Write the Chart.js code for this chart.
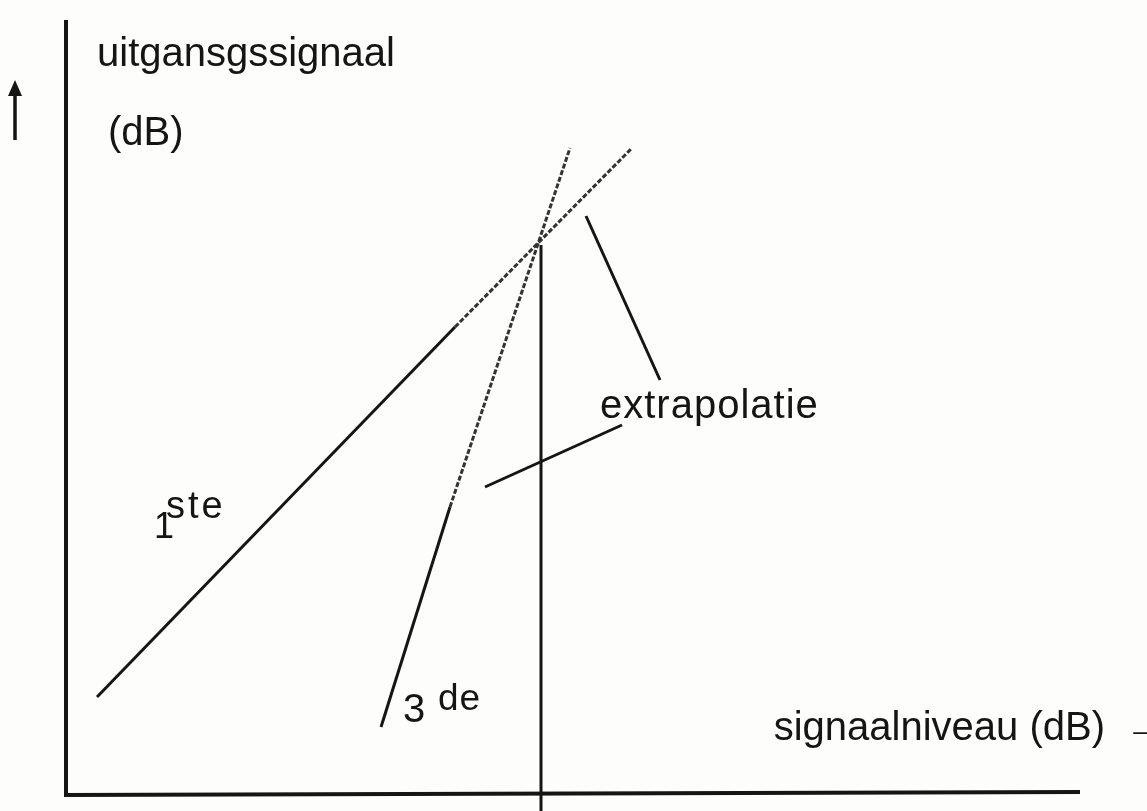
<!DOCTYPE html>
<html>
<head>
<meta charset="utf-8">
<script src="https://cdn.jsdelivr.net/npm/chart.js@4.4.0/dist/chart.umd.min.js"></script>
<style>
  html, body { margin: 0; padding: 0; background: #fdfdfb; }
  #wrap { width: 1147px; height: 811px; position: relative; }
</style>
</head>
<body>
<div id="wrap"><canvas id="c" width="1147" height="811"></canvas></div>
<script>
// Data units: dB (arbitrary), origin at the axes' corner
const firstOrderSolid  = [{x: 3.1, y: 9.8}, {x: 38.9, y: 46.8}];
const firstOrderExtrap = [{x: 38.9, y: 46.8}, {x: 56.6, y: 64.7}];
const thirdOrderSolid  = [{x: 31.5, y: 6.8}, {x: 38.4, y: 28.8}];
const thirdOrderExtrap = [{x: 38.4, y: 28.8}, {x: 50.4, y: 64.7}];
const interceptLine    = [{x: 47.5, y: 55.0}, {x: 47.5, y: -1.6}];
const yAxisLine        = [{x: 0, y: 0}, {x: 0, y: 77.5}];
const xAxisLine        = [{x: -0.2, y: 0}, {x: 101.4, y: 0.3}];
const pointerUpper     = [{x: 52.0, y: 57.9}, {x: 59.4, y: 41.5}];
const pointerLower     = [{x: 41.9, y: 30.8}, {x: 55.6, y: 37.0}];

const labels = [
  {text: 'uitgansgssignaal', x: 3.1, y: 72.9, size: 40, ls: 0, align: 'left'},
  {text: '(dB)', x: 4.2, y: 65.0, size: 40, ls: 0, align: 'left'},
  {text: 'extrapolatie', x: 53.4, y: 37.7, size: 40, ls: 1, align: 'left'},
  {text: '1', x: 8.8, y: 25.7, size: 36, ls: 0, align: 'left'},
  {text: 'ste', x: 10.0, y: 27.7, size: 38, ls: 3, align: 'left'},
  {text: '3', x: 33.7, y: 7.3, size: 40, ls: 0, align: 'left'},
  {text: 'de', x: 37.2, y: 8.5, size: 37, ls: 1, align: 'left'},
  {text: 'signaalniveau (dB)', x: 103.9, y: 5.5, size: 40, ls: 0, align: 'right'},
  {text: '\u2192', x: 105.9, y: 5.5, size: 40, ls: 0, align: 'left'}
];

const INK = '#151515';
function seg(data, opts) {
  return Object.assign({
    data, showLine: true, borderColor: INK, borderWidth: 3,
    pointRadius: 0, pointHoverRadius: 0, fill: false, tension: 0
  }, opts || {});
}

const textPlugin = {
  id: 'texts',
  afterDatasetsDraw(chart) {
    const ctx = chart.ctx, xs = chart.scales.x, ys = chart.scales.y;
    ctx.save();
    ctx.fillStyle = INK;
    ctx.textBaseline = 'alphabetic';
    labels.forEach(l => {
      ctx.font = l.size + 'px "Liberation Sans", Arial, sans-serif';
      ctx.letterSpacing = (l.ls || 0) + 'px';
      ctx.textAlign = l.align;
      ctx.fillText(l.text, xs.getPixelForValue(l.x), ys.getPixelForValue(l.y));
    });
    ctx.letterSpacing = '0px';
    // vertical arrow on the left, pointing up
    const ax = xs.getPixelForValue(-5.1);
    const yTop = ys.getPixelForValue(71.5), yBot = ys.getPixelForValue(65.5);
    ctx.strokeStyle = INK; ctx.lineWidth = 3.5;
    ctx.beginPath(); ctx.moveTo(ax, yBot); ctx.lineTo(ax, yTop + 6); ctx.stroke();
    ctx.beginPath();
    ctx.moveTo(ax, yTop); ctx.lineTo(ax - 7, yTop + 16); ctx.lineTo(ax + 7, yTop + 16);
    ctx.closePath(); ctx.fill();
    ctx.restore();
  }
};

new Chart(document.getElementById('c'), {
  type: 'scatter',
  data: {
    datasets: [
      seg(yAxisLine, {borderWidth: 4}),
      seg(xAxisLine, {borderWidth: 4}),
      seg(interceptLine, {borderWidth: 3}),
      seg(firstOrderSolid),
      seg(firstOrderExtrap, {borderDash: [5, 2], borderColor: '#333333'}),
      seg(thirdOrderSolid),
      seg(thirdOrderExtrap, {borderDash: [5, 2], borderColor: '#333333'}),
      seg(pointerUpper),
      seg(pointerLower)
    ]
  },
  options: {
    responsive: false,
    animation: false,
    events: [],
    layout: { padding: 0 },
    plugins: { legend: { display: false }, tooltip: { enabled: false } },
    scales: {
      x: { type: 'linear', min: -6.6, max: 108.1, display: false },
      y: { type: 'linear', min: -1.6, max: 79.5, display: false }
    },
    elements: { line: { borderCapStyle: 'butt' } },
    clip: false
  },
  plugins: [textPlugin]
});
</script>
</body>
</html>
